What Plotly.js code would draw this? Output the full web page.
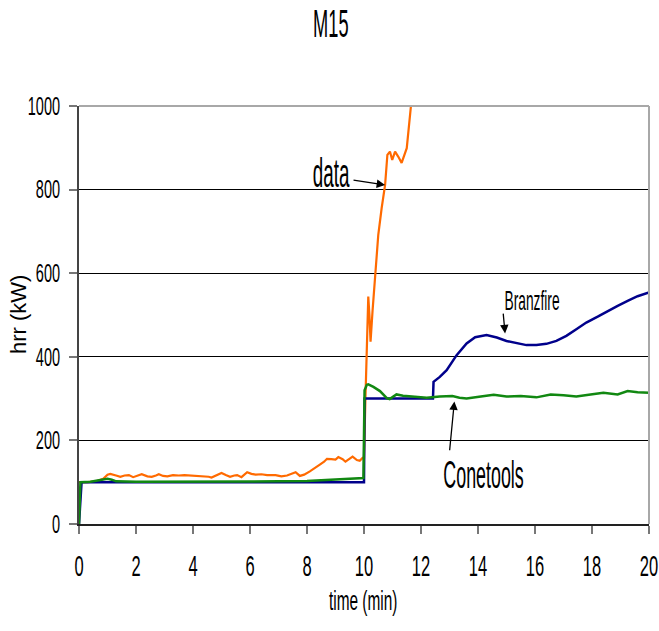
<!DOCTYPE html>
<html>
<head>
<meta charset="utf-8">
<script src="https://cdn.plot.ly/plotly-3.0.1.min.js"></script>
<style>html,body{margin:0;padding:0;background:#fff;}#chart{width:659px;height:631px;}</style>
</head>
<body>
<div id="chart"></div>
<script>
// Measured data (time in minutes, heat release rate in kW)
var dataTime = [0,0.3,0.6,0.85,1.0,1.1,1.3,1.45,1.6,1.75,1.9,2.05,2.2,2.4,2.55,2.7,2.8,2.95,3.1,3.3,3.5,3.7,3.9,4.0,4.2,4.4,4.55,4.65,4.8,5.0,5.15,5.3,5.45,5.55,5.7,5.9,6.05,6.2,6.4,6.6,6.9,7.1,7.3,7.5,7.6,7.75,7.9,8.1,8.3,8.45,8.6,8.7,8.85,9.0,9.1,9.25,9.35,9.5,9.6,9.75,9.85,9.95,10.0,10.05,10.12,10.15,10.19,10.23,10.3,10.39,10.5,10.62,10.74,10.82,10.91,10.99,11.09,11.2,11.32,11.5,11.56,11.64,11.72];
var dataHrr  = [100,100,102,108,118,120,116,113,116,117,112,115,119,114,113,116,119,115,114,117,116,117,116,117,115,115,113,111,116,122,117,113,116,117,112,124,120,118,119,117,117,114,116,121,124,115,118,126,134,142,149,156,155,154,160,155,149,157,161,153,151,158,158,300,480,544,500,436,510,596,691,756,811,883,891,871,891,879,864,899,947,998,1050];

// Branzfire model
var branzTime = [0,0.09,1.0,2,4,6,8,10.0,10.02,12.42,12.44,12.66,12.9,13.25,13.6,13.9,14.3,14.66,15.0,15.36,15.7,16.05,16.4,16.75,17.1,17.45,17.8,18.2,18.55,18.9,19.25,19.6,20.0];
var branzHrr  = [0,100,100,100,100,100,100,100,300,300,340,352,368,404,432,447,452,446,438,432,428,428,431,438,450,466,482,496,510,522,534,545,554];

// Conetools model
var coneTime = [0,0.05,0.4,0.7,1.0,1.15,1.3,2,3,4,5,6,7,8,8.5,9,9.5,9.98,10.02,10.1,10.15,10.33,10.56,10.8,10.9,11.0,11.14,11.37,11.72,12.2,12.66,13.1,13.35,13.6,14.1,14.55,15.0,15.5,16.05,16.55,17.0,17.45,17.95,18.4,18.9,19.25,19.6,20.0];
var coneHrr  = [0,100,101,105,108,106,102,101,101,101,101,101,102,103,105,107,108,110,320,333,334,328,318,301,299,303,310,307,305,302,305,306,302,300,305,309,305,306,303,310,308,305,310,314,310,318,315,314];

var xTicks = [0,2,4,6,8,10,12,14,16,18,20];
var yTicks = [0,200,400,600,800,1000];

var FONT = '"Liberation Sans", Arial, sans-serif';

var traces = [
  {x: dataTime, y: dataHrr, mode: 'lines', name: 'data', line: {color: '#ff6a00', width: 2.2}},
  {x: branzTime, y: branzHrr, mode: 'lines', name: 'Branzfire', line: {color: '#00008b', width: 2.5}},
  {x: coneTime, y: coneHrr, mode: 'lines', name: 'Conetools', line: {color: '#118811', width: 2.5}}
];

var arrowStyle = {showarrow: true, arrowhead: 2, arrowsize: 1.3, arrowwidth: 1.3, arrowcolor: '#000', standoff: 0};

var annotations = [
  {text: 'time (min)', xref: 'paper', yref: 'paper', x: 0.498, y: -0.182, xanchor: 'center', yanchor: 'middle', showarrow: false, font: {family: FONT, size: 28, color: '#000'}},
  {text: 'hrr (kW)', xref: 'paper', yref: 'paper', x: -0.107, y: 0.5, xanchor: 'center', yanchor: 'middle', textangle: -90, showarrow: false, font: {family: FONT, size: 22, color: '#000'}},
  {text: 'data', xref: 'x', yref: 'y', x: 8.86, y: 840, showarrow: false, font: {family: FONT, size: 40, color: '#000'}},
  Object.assign({text: '', xref: 'x', yref: 'y', axref: 'x', ayref: 'y', x: 10.74, y: 811, ax: 9.58, ay: 823}, arrowStyle),
  {text: 'Branzfire', xref: 'x', yref: 'y', x: 15.91, y: 533, showarrow: false, font: {family: FONT, size: 27, color: '#000'}},
  Object.assign({text: '', xref: 'x', yref: 'y', axref: 'x', ayref: 'y', x: 14.95, y: 456, ax: 14.88, ay: 507}, arrowStyle),
  {text: 'Conetools', xref: 'x', yref: 'y', x: 14.18, y: 117, showarrow: false, font: {family: FONT, size: 38, color: '#000'}},
  Object.assign({text: '', xref: 'x', yref: 'y', axref: 'x', ayref: 'y', x: 13.17, y: 293, ax: 13.0, ay: 173}, arrowStyle)
];
// horizontal squeeze per annotation (reference uses a very condensed font)
var annSqueeze = [0.55, 1, 0.47, 1, 0.51, 1, 0.47, 1];

var layout = {
  width: 659, height: 631,
  margin: {l: 79, r: 10, t: 106, b: 107},
  paper_bgcolor: '#fff', plot_bgcolor: '#fff',
  showlegend: false,
  font: {family: FONT, color: '#000'},
  title: {text: 'M15', font: {family: FONT, size: 38, color: '#000'}, xref: 'container', x: 0.502, xanchor: 'center', yref: 'container', y: 1 - 24/631, yanchor: 'middle'},
  xaxis: {
    range: [0, 20], tickvals: xTicks, ticktext: xTicks.map(String),
    ticks: 'outside', ticklen: 8, tickwidth: 2, tickcolor: '#777',
    showgrid: false, zeroline: false,
    showline: true, linecolor: '#222', linewidth: 2,
    tickfont: {family: FONT, size: 30, color: '#000'},
    ticklabelstandoff: 6, ticklabeloverflow: 'allow'
  },
  yaxis: {
    range: [0, 1000], tickvals: yTicks, ticktext: yTicks.map(String),
    ticks: 'outside', ticklen: 8, tickwidth: 2, tickcolor: '#777',
    showgrid: true, gridcolor: '#000', gridwidth: 1, zeroline: false,
    showline: true, linecolor: '#444', linewidth: 2,
    tickfont: {family: FONT, size: 25, color: '#000'},
    ticklabelstandoff: 4, ticklabeloverflow: 'allow'
  },
  shapes: [
    {type: 'line', xref: 'paper', yref: 'paper', x0: 0, x1: 1, y0: 1, y1: 1, line: {color: '#a8a8a8', width: 2}, layer: 'above'},
    {type: 'line', xref: 'paper', yref: 'paper', x0: 1, x1: 1, y0: 0, y1: 1, line: {color: '#a8a8a8', width: 2}, layer: 'above'}
  ],
  annotations: annotations
};

function squeeze(el, s) {
  if (!el || s === 1) return;
  var parent = el.parentNode;
  var r = el.getBoundingClientRect();
  var anchor = el.getAttribute('text-anchor') || 'start';
  var cx = anchor === 'end' ? r.right : (anchor === 'middle' ? (r.left + r.right) / 2 : r.left);
  var ctm = parent.getScreenCTM();
  var px = (cx - ctm.e) / ctm.a;
  var g = document.createElementNS('http://www.w3.org/2000/svg', 'g');
  parent.insertBefore(g, el);
  g.appendChild(el);
  g.setAttribute('transform', 'translate(' + px + ',0) scale(' + s + ',1) translate(' + (-px) + ',0)');
}

Plotly.newPlot('chart', traces, layout, {staticPlot: true, displayModeBar: false}).then(function (gd) {
  gd.querySelectorAll('.xtick text').forEach(function (t) { squeeze(t, 0.55); });
  gd.querySelectorAll('.ytick text').forEach(function (t) { squeeze(t, 0.58); });
  squeeze(gd.querySelector('.gtitle'), 0.48);
  gd.querySelectorAll('g.annotation').forEach(function (a) {
    var i = +a.getAttribute('data-index');
    var t = a.querySelector('text.annotation-text');
    if (t && annSqueeze[i] !== undefined) squeeze(t, annSqueeze[i]);
  });
});
</script>
</body>
</html>
